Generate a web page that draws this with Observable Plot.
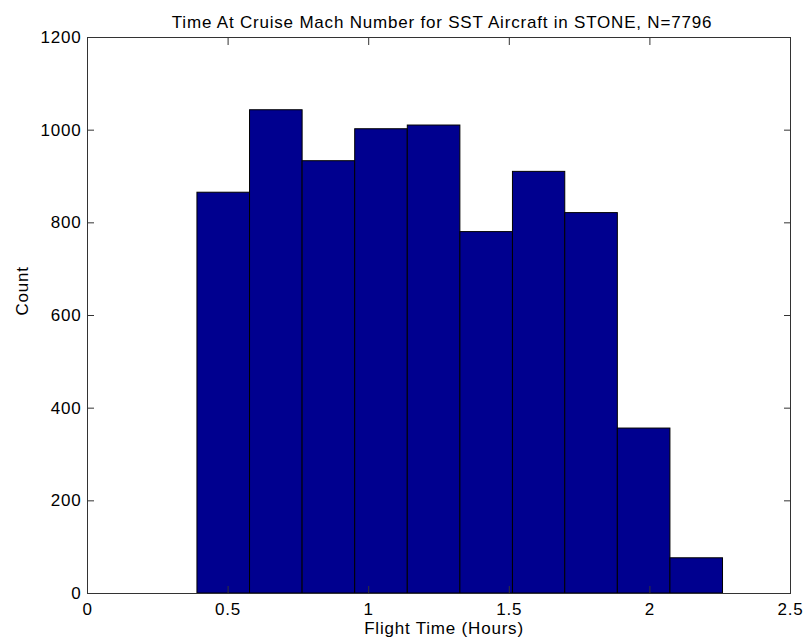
<!DOCTYPE html>
<html><head><meta charset="utf-8">
<script src="https://cdn.jsdelivr.net/npm/d3@7"></script>
<script src="https://cdn.jsdelivr.net/npm/@observablehq/plot@0.6"></script>
<style>body{margin:0;background:#fff} #chart{width:808px;height:644px}</style>
</head><body><div id="chart"></div>
<script>
const binEdges = [0.391, 0.578, 0.765, 0.952, 1.139, 1.326, 1.513, 1.699, 1.886, 2.073, 2.260];
const counts = [865, 1043, 933, 1002, 1010, 780, 910, 821, 356, 76];
const xTicks = [0, 0.5, 1, 1.5, 2, 2.5];
const yTicks = [0, 200, 400, 600, 800, 1000, 1200];
const titleText = "Time At Cruise Mach Number for SST Aircraft in STONE, N=7796";
const xLabel = "Flight Time (Hours)";
const yLabel = "Count";

const bins = counts.map((c, i) => ({x1: binEdges[i], x2: binEdges[i + 1], count: c}));

const chart = Plot.plot({
  width: 808,
  height: 644,
  marginLeft: 87,
  marginRight: 18,
  marginTop: 37,
  marginBottom: 51,
  x: {domain: [0, 2.5]},
  y: {domain: [0, 1200]},
  style: {
    fontFamily: "'Liberation Sans', Arial, sans-serif",
    fontSize: "17px",
    letterSpacing: "0.8px",
    color: "black",
    background: "white"
  },
  marks: [
    Plot.rectY(bins, {x1: "x1", x2: "x2", y: "count", fill: "#00008F", stroke: "black", strokeWidth: 1}),
    Plot.frame({stroke: "#333", strokeWidth: 1}),
    Plot.axisX(xTicks, {anchor: "bottom", tickSize: -7, tickPadding: 16, tickFormat: d => String(d), label: null, stroke: "#333"}),
    Plot.axisX(xTicks, {anchor: "top", tickSize: -7, tickFormat: () => "", label: null, stroke: "#333"}),
    Plot.axisY(yTicks, {anchor: "left", tickSize: -7, tickPadding: 13, tickFormat: d => String(d), label: null, stroke: "#333"}),
    Plot.axisY(yTicks, {anchor: "right", tickSize: -7, tickFormat: () => "", label: null, stroke: "#333"}),
    Plot.text([titleText], {frameAnchor: "top", dy: -21.5, dx: 3, text: d => d}),
    Plot.text([xLabel], {frameAnchor: "bottom", dy: 40, dx: 5, text: d => d}),
    Plot.text([yLabel], {frameAnchor: "left", rotate: -90, dx: -64.5, text: d => d})
  ]
});
document.getElementById("chart").appendChild(chart);
</script>
</body></html>
